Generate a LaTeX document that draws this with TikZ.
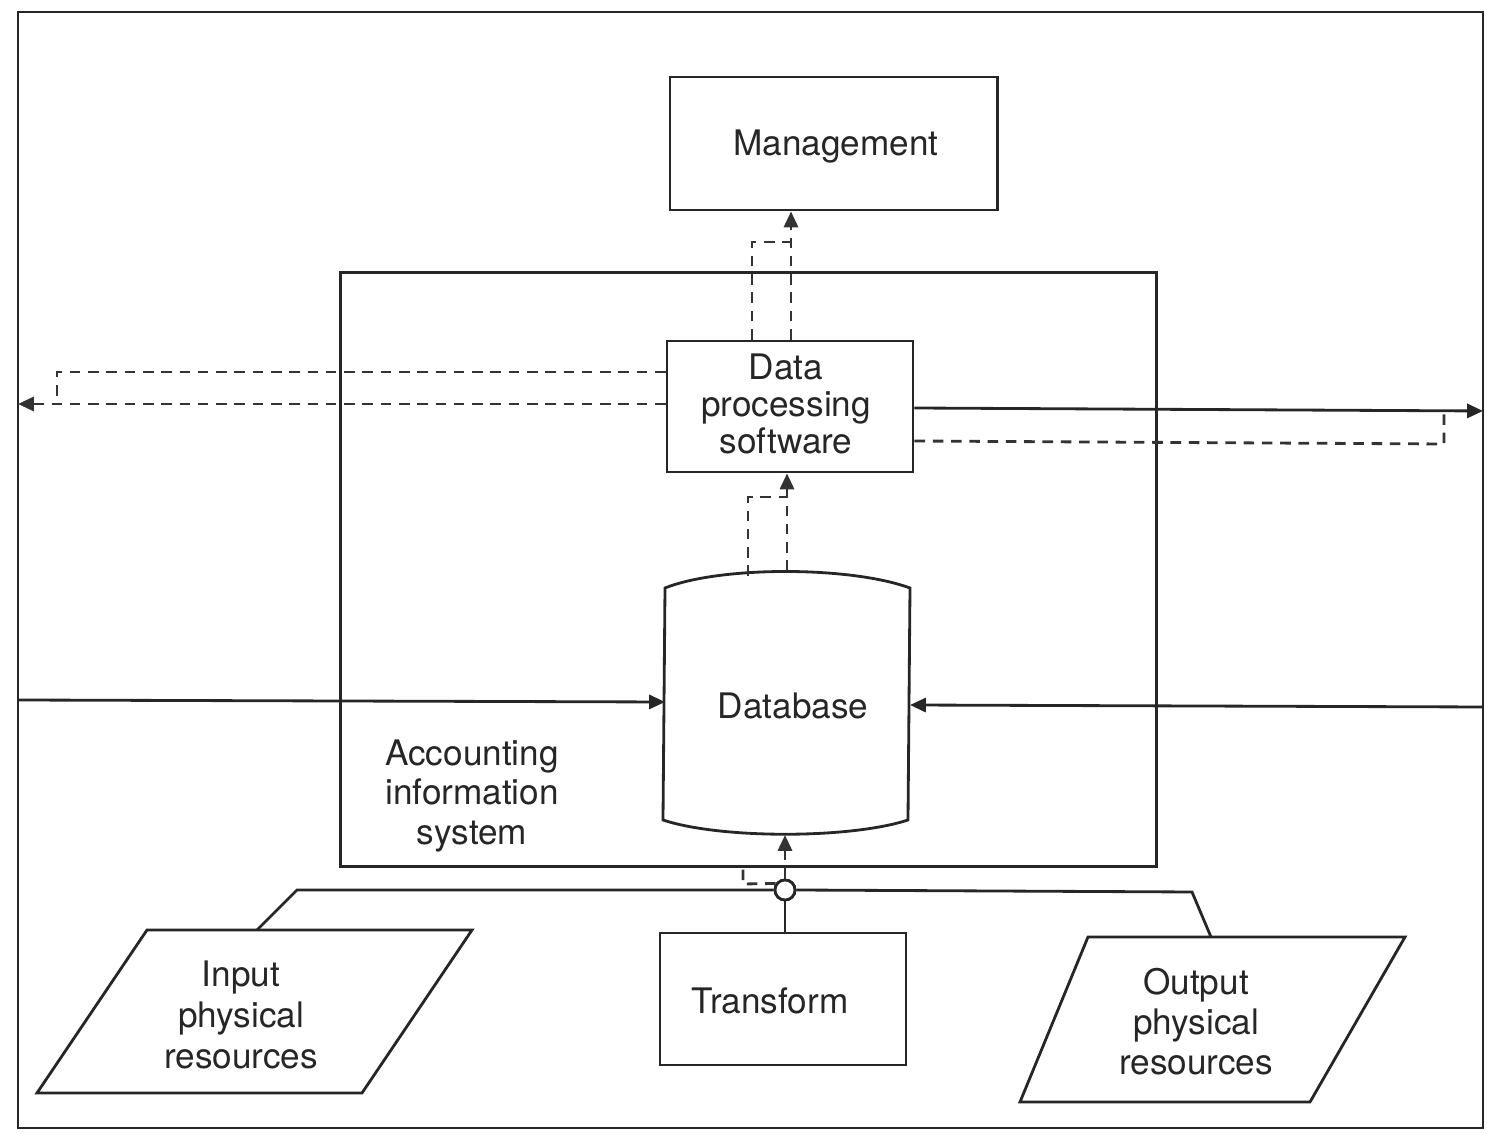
\documentclass[tikz,border=0pt]{standalone}
\usepackage{fontspec}
\setmainfont{TeX Gyre Heros}
\usetikzlibrary{arrows.meta}

\begin{document}
\begin{tikzpicture}[x=0.01cm,y=-0.01cm,
  ln/.style={line width=0.8pt,draw=black!85},
  box/.style={draw=black!85,line width=0.8pt,inner sep=0pt},
  dsh/.style={line width=0.8pt,draw=black!80,dash pattern=on 3pt off 2.2pt},
  tip/.style={-{Triangle[length=4.5pt,width=4pt]}},
  lbl/.style={align=center,font=\fontsize{10}{11}\selectfont,inner sep=0pt,text=black!85}]

\useasboundingbox (0,0) rectangle (1487,1134);

% outer frame
\draw[ln] (18,12) rectangle (1483,1128);
\coordinate (frameL1) at (18,404);
\coordinate (frameL2) at (18,700);
\coordinate (frameR1) at (1483,411);
\coordinate (frameR2) at (1483,707);

% accounting information system boundary
\node[box,minimum width=8.15cm,minimum height=5.93cm] (ais) at (748.5,569.5) {};
\node[lbl,font=\fontsize{10}{11.2}\selectfont] (aislbl) at (472,796) {Accounting\\information\\system};

% management and data processing software
\node[box,minimum width=3.27cm,minimum height=1.33cm] (mgmt) at (833.5,143.5) {};
\node[lbl] (mgmtlbl) at (836,147) {Management};
\node[box,minimum width=2.46cm,minimum height=1.31cm] (dps) at (790,406.5) {};
\node[lbl,font=\fontsize{10}{10.4}\selectfont] (dpslbl) at (786,404) {Data\\processing\\software};

% database store
\draw[ln] (665,588) .. controls (720,566) and (850,566) .. (910,588)
          -- (908,820) .. controls (850,839) and (720,839) .. (663,820) -- cycle;
\node[lbl] (db) at (793,706) {Database};
\coordinate (dbtop) at (787,571);
\coordinate (dbtopL) at (748,576);
\coordinate (dbbot) at (785,835);
\coordinate (dbW) at (665,702);
\coordinate (dbE) at (910,705);

% transform and physical resources
\node[box,minimum width=2.46cm,minimum height=1.32cm] (trf) at (783,999) {};
\node[lbl] (trflbl) at (770,1001) {Transform};

\coordinate (inA) at (147,930);
\coordinate (inB) at (472,930);
\coordinate (inC) at (362,1093);
\coordinate (inD) at (37,1093);
\draw[ln] (inA) -- (inB) -- (inC) -- (inD) -- cycle;
\node[lbl,font=\fontsize{10}{11.6}\selectfont] (inp) at (241,1015) {Input\\physical\\resources};

\coordinate (outA) at (1088,937);
\coordinate (outB) at (1405,937);
\coordinate (outC) at (1310,1102);
\coordinate (outD) at (1020,1102);
\draw[ln] (outA) -- (outB) -- (outC) -- (outD) -- cycle;
\node[lbl,font=\fontsize{10}{11.4}\selectfont] (outp) at (1196,1022) {Output\\physical\\resources};

% collecting line of the physical flow
\node[circle,draw=black!85,line width=0.8pt,fill=white,minimum size=0.2cm,inner sep=0pt] (junc) at (785,890) {};
\coordinate (inK) at (257,930);
\coordinate (inE) at (297,890);
\coordinate (outK) at (1211,937);
\coordinate (outE) at (1192,892);
\draw[ln] (inK) -- (inE) -- (junc.west);
\draw[ln] (outK) -- (outE) -- (junc.east);
\draw[ln] (trf.north -| junc) -- (junc.south);
\node[circle,draw=black!85,line width=0.8pt,fill=white,minimum size=0.2cm,inner sep=0pt] at (junc) {};

% data flows
\draw[dsh,tip] (junc.north) -- (dbbot);
\draw[dsh] (junc.145) -- (743,884) -- (743,866);

\draw[dsh,tip] (dbtop) -- (dps.south -| dbtop);
\draw[dsh] (dbtopL) -- (748,497) -- (787,497);

\draw[dsh,tip] (dps.north -| 791,0) -- (mgmt.south -| 791,0);
\draw[dsh] (dps.north -| 752,0) -- (752,242) -- (791,242);

\draw[dsh,tip] (dps.west |- 0,404) -- (frameL1);
\draw[dsh] (dps.west |- 0,372) -- (57,372) -- (57,404);

\draw[ln,tip] (dps.east |- 0,408) -- (frameR1);
\draw[dsh] (dps.east |- 0,441) -- (1444,444) -- (1444,410);

% feedback into the database
\draw[ln,tip] (frameL2) -- (dbW);
\draw[ln,tip] (frameR2) -- (dbE);

\end{tikzpicture}
\end{document}
